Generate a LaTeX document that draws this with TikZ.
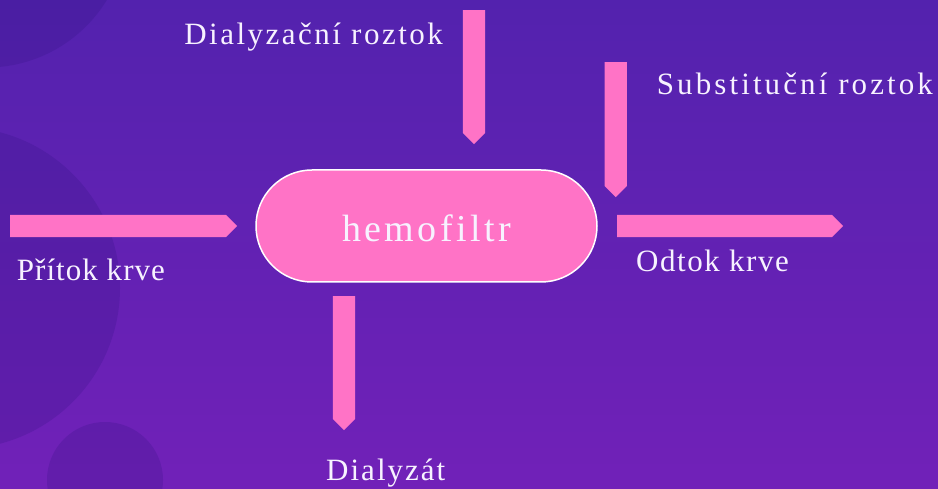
\documentclass[tikz,border=0pt]{standalone}
\usepackage{fontspec}
\setmainfont{Liberation Serif}
\newfontfamily\lblfont{Liberation Serif}
\newfontfamily\titlefont[LetterSpace=9.0]{Liberation Serif}
\usetikzlibrary{shapes.arrows, positioning}
\definecolor{hfbgtop}{HTML}{5322AE}
\definecolor{hfbgbot}{HTML}{7121B8}
\definecolor{hfblob}{HTML}{2A0F7A}
\definecolor{hfpink}{HTML}{FF73C6}
\definecolor{hftext}{HTML}{F7F2FF}

\begin{document}
\begin{tikzpicture}[
  x=1pt, y=1pt,
  flow/.style={single arrow, fill=hfpink, draw=none, inner xsep=0pt, inner ysep=11pt,
               single arrow head extend=0pt, single arrow tip angle=90, anchor=tail},
  filter/.style={draw=white, line width=1.5pt, fill=hfpink, rounded corners=56pt,
                 minimum width=341pt, minimum height=112pt, text=hftext, text height=32pt,
                 font=\titlefont\fontsize{38}{44}\selectfont},
  lbl/.style={text=hftext, inner sep=0pt,
              font=\lblfont\fontsize{31}{36}\selectfont\addfontfeature{LetterSpace=#1}},
  lbl/.default=5,
  blob/.style={fill=hfblob, fill opacity=0.2}
]
\useasboundingbox (0,0) rectangle (938,488);

% background with the darker round blobs
\begin{scope}
  \clip (0,0) rectangle (938,488);
  \shade[top color=hfbgtop, bottom color=hfbgbot] (0,0) rectangle (938,488);
  \fill[blob] (-13.5,561.5) circle (141pt);
  \fill[blob] (-41,200) circle (161pt);
  \fill[blob] (105,8) circle (58pt);
\end{scope}

\node[filter] (hemo) at (426.5,262) {hemofiltr};

% flows in and out of the filter (placed by their tails)
\node[flow, minimum height=227pt] (bloodin) at (10,262) {};
\node[flow, minimum height=226pt] (bloodout) at (617,262) {};
\node[flow, minimum height=134pt, rotate=-90] (dialin) at (474,478) {};
\node[flow, minimum height=135pt, rotate=-90] (subst) at (615.7,426) {};
\node[flow, minimum height=134pt, rotate=-90] (dialout) at (344,192) {};

\node[lbl=8, anchor=base east] (dialinlbl) at (443,443) {Dialyzační roztok};
\node[lbl=10, anchor=base west] (substlbl) at (656.7,393) {Substituční roztok};
\node[lbl=3.4, anchor=base west] (bloodinlbl) at (16.7,207.3) {Přítok krve};
\node[lbl=5, anchor=base west] (bloodoutlbl) at (636,216.3) {Odtok krve};
\node[lbl=6.5, anchor=base west] (dialoutlbl) at (326,8) {Dialyzát};
\end{tikzpicture}
\end{document}
